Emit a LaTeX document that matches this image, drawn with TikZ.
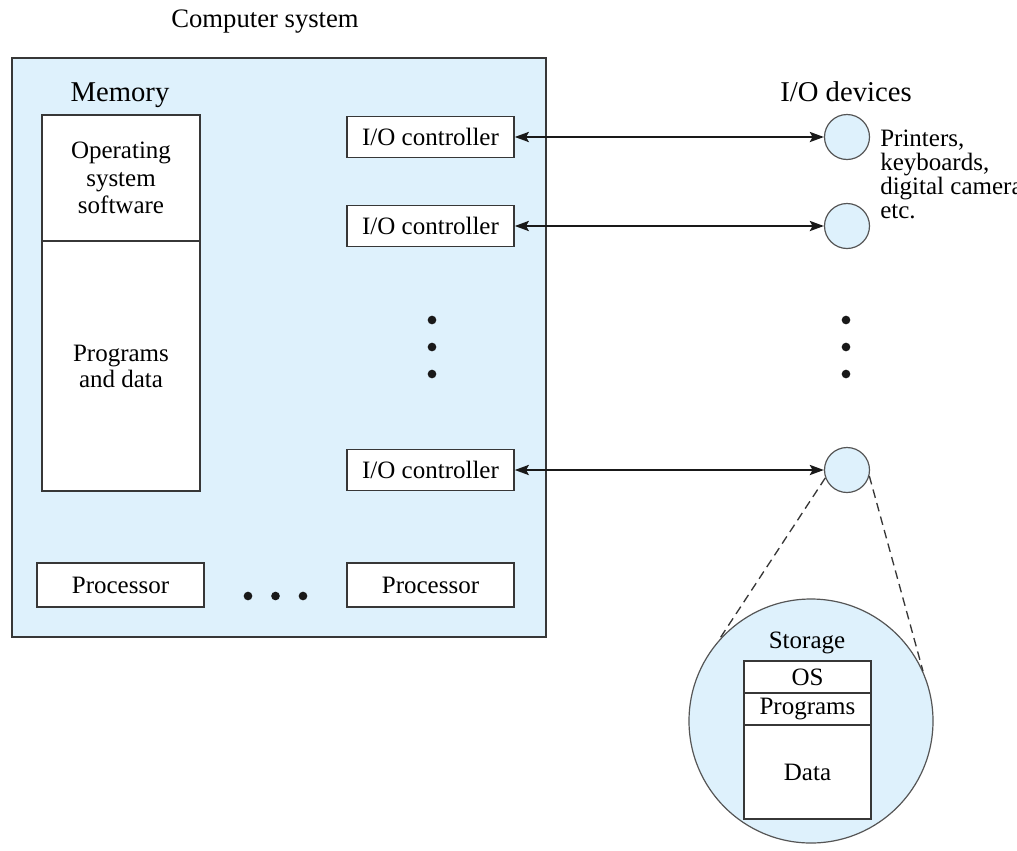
\documentclass[tikz,border=0pt]{standalone}
\usepackage{fontspec}
\setmainfont{Liberation Serif}
\usetikzlibrary{arrows.meta}
\definecolor{sysblue}{RGB}{222,241,252}
\definecolor{edge}{RGB}{55,55,55}
\begin{document}
\begin{tikzpicture}[x=0.75pt,y=-0.75pt,
  every node/.style={font=\fontsize{18.75}{20.5}\selectfont},
  heading/.style={font=\fontsize{21.5}{24}\selectfont},
  wbox/.style={draw=edge,fill=white,line width=1.1pt,inner sep=0pt,minimum width=125.25pt,minimum height=30.75pt,align=center},
  dev/.style={circle,draw=edge!85,fill=sysblue,line width=0.9pt,minimum size=33.75pt,inner sep=0pt},
  bigdot/.style={circle,fill=black!90,minimum size=6.5pt,inner sep=0pt},
  link/.style={{Stealth[length=10.5pt,width=7.5pt,inset=2pt]}-{Stealth[length=10.5pt,width=7.5pt,inset=2pt]},line width=1.9pt,draw=black!90},
  zoomline/.style={dash pattern=on 6.5pt off 4pt,draw=edge,line width=1pt}
]
\useasboundingbox (0,0) rectangle (1017,850);
% computer system
\node[font=\fontsize{20}{24}\selectfont] (title) at (265,22) {Computer system};
\node[draw=edge,fill=sysblue,line width=1.1pt,minimum width=400.5pt,minimum height=434.25pt,inner sep=0pt] (sys) at (279,347.5) {};
\node[heading] (memlbl) at (120,95) {Memory};
\node[wbox,minimum width=118.5pt,minimum height=94.5pt] (os) at (121,178) {Operating\\system\\software};
\node[wbox,minimum width=118.5pt,minimum height=187.5pt,font=\fontsize{18.75}{19.5}\selectfont] (prog) at (121,366) {Programs\\and data};
\node[wbox] (ctl1) at (430.5,137) {I/O controller};
\node[wbox] (ctl2) at (430.5,226) {I/O controller};
\node[wbox] (ctl3) at (430.5,470) {I/O controller};
\node[wbox,minimum height=33pt] (proc1) at (120.5,585) {Processor};
\node[wbox,minimum height=33pt] (proc2) at (430.5,585) {Processor};
\node[bigdot] (hd1) at (248,596) {};
\node[bigdot] (hd2) at (275.5,596) {};
\node[bigdot] (hd3) at (303,596) {};
\node[bigdot] (vd1) at (432,320) {};
\node[bigdot] (vd2) at (432,347) {};
\node[bigdot] (vd3) at (432,374) {};
% devices
\node[heading] (devlbl) at (846,92) {I/O devices};
\node[dev] (dev1) at (847,137) {};
\node[dev] (dev2) at (847,226) {};
\node[dev] (dev3) at (847,470) {};
\node[bigdot] (rd1) at (846,320) {};
\node[bigdot] (rd2) at (846,347) {};
\node[bigdot] (rd3) at (846,374) {};
\node[anchor=west,align=left,inner sep=0pt,font=\fontsize{18.75}{18}\selectfont] (devtxt) at (880,174) {Printers,\\keyboards,\\digital cameras,\\etc.};
\draw[link] (ctl1.east) -- (dev1.west);
\draw[link] (ctl2.east) -- (dev2.west);
\draw[link] (ctl3.east) -- (dev3.west);
% storage
\node[circle,draw=edge!85,fill=sysblue,line width=0.9pt,minimum size=183pt,inner sep=0pt] (stor) at (811,721) {};
\draw[zoomline] (dev3.200) -- (stor.139);
\draw[zoomline] (dev3.-15) -- (stor.24);
\node (storlbl) at (807,643) {Storage};
\node[wbox,minimum width=95.25pt,minimum height=24pt] (sos) at (807.5,677) {OS};
\node[wbox,minimum width=95.25pt,minimum height=24pt] (sprog) at (807.5,709) {Programs};
\node[wbox,minimum width=95.25pt,minimum height=70.5pt] (sdata) at (807.5,772) {Data};
\end{tikzpicture}
\end{document}
